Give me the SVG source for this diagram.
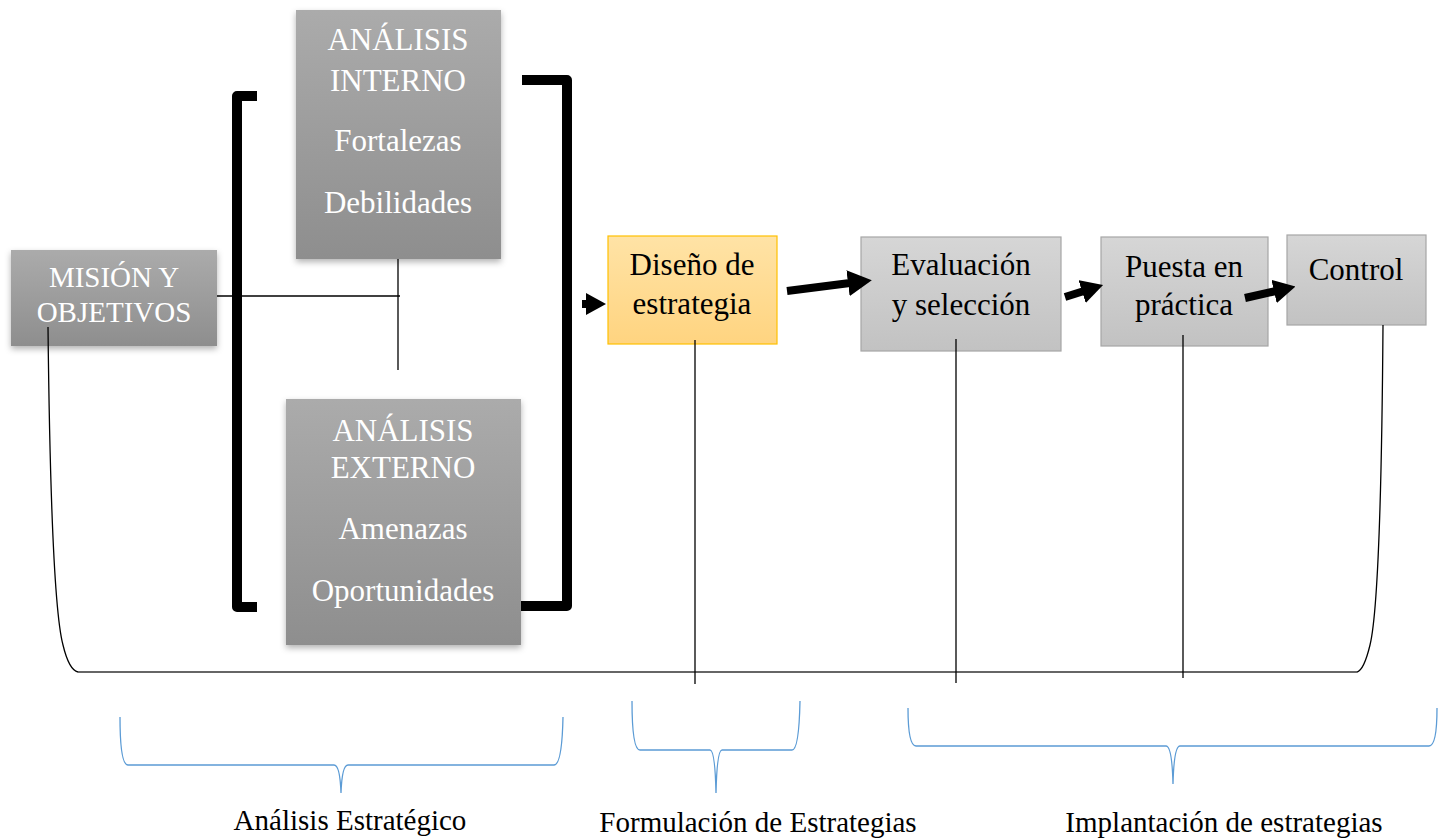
<svg xmlns="http://www.w3.org/2000/svg" width="1446" height="839" viewBox="0 0 1446 839">
<style>
.dk{fill:url(#gDark);filter:url(#sh)}
.lt{fill:url(#gLight);stroke:#a6a6a6;stroke-width:1.2}
.or{fill:url(#gOr);stroke:#ffc000;stroke-width:1.2}
.tw{font-family:"Liberation Serif","Times New Roman",serif;font-size:31px;fill:#ffffff;text-anchor:middle}
.tb{font-family:"Liberation Serif","Times New Roman",serif;font-size:31px;fill:#000000;text-anchor:middle}
.lab{font-family:"Liberation Serif","Times New Roman",serif;font-size:29px;fill:#000000;text-anchor:middle}
.thin{fill:none;stroke:#000;stroke-width:1.3}
.brk{fill:none;stroke:#000;stroke-width:10;stroke-linejoin:round}
.arr{fill:none;stroke:#000;stroke-width:8}
.brace{fill:none;stroke:#5b9bd5;stroke-width:1.3}
</style>
<defs>
<linearGradient id="gDark" x1="0" y1="0" x2="0" y2="1"><stop offset="0" stop-color="#ababab"/><stop offset="1" stop-color="#8e8e8e"/></linearGradient>
<linearGradient id="gLight" x1="0" y1="0" x2="0" y2="1"><stop offset="0" stop-color="#d6d6d6"/><stop offset="1" stop-color="#c2c2c2"/></linearGradient>
<linearGradient id="gOr" x1="0" y1="0" x2="0" y2="1"><stop offset="0" stop-color="#ffe3a6"/><stop offset="1" stop-color="#ffd480"/></linearGradient>
<filter id="sh" x="-10%" y="-10%" width="120%" height="125%"><feDropShadow dx="0" dy="3" stdDeviation="3" flood-color="#000" flood-opacity="0.3"/></filter>
<marker id="ah" markerUnits="userSpaceOnUse" markerWidth="24" markerHeight="26" refX="2" refY="13" orient="auto"><path d="M0,0 L24,13 L0,26 z" fill="#000"/></marker>
<marker id="ahs" markerUnits="userSpaceOnUse" markerWidth="20" markerHeight="22" refX="2" refY="11" orient="auto"><path d="M0,0 L20,11 L0,22 z" fill="#000"/></marker>
<marker id="ahm" markerUnits="userSpaceOnUse" markerWidth="22" markerHeight="24" refX="2" refY="12" orient="auto"><path d="M0,0 L22,12 L0,24 z" fill="#000"/></marker>
</defs>
<rect width="1446" height="839" fill="#fff"/>

<g id="brackets">
<path class="brk" d="M257,96 L237,96 L237,607 L257,607"/>
<path class="brk" d="M522,80 L567,80 L567,606 L521,606"/>
</g>

<g id="mision">
<rect class="dk" x="11" y="250" width="206" height="96"/>
<text class="tw" style="font-size:29px" x="114" y="287">MISIÓN Y</text>
<text class="tw" style="font-size:29px" x="114" y="322">OBJETIVOS</text>
</g>

<g id="interno">
<rect class="dk" x="296" y="10" width="205" height="249"/>
<text class="tw" x="398" y="50">ANÁLISIS</text>
<text class="tw" x="398" y="91">INTERNO</text>
<text class="tw" x="398" y="151">Fortalezas</text>
<text class="tw" x="398" y="213">Debilidades</text>
</g>

<g id="externo">
<rect class="dk" x="286" y="399" width="235" height="246"/>
<text class="tw" x="403" y="441">ANÁLISIS</text>
<text class="tw" x="403" y="478">EXTERNO</text>
<text class="tw" x="403" y="539">Amenazas</text>
<text class="tw" x="403" y="601">Oportunidades</text>
</g>

<g id="diseno">
<rect class="or" x="608" y="236" width="169" height="108"/>
<text class="tb" x="692" y="275">Diseño de</text>
<text class="tb" x="692" y="314">estrategia</text>
</g>

<g id="evaluacion">
<rect class="lt" x="861" y="237" width="200" height="114"/>
<text class="tb" x="961" y="275">Evaluación</text>
<text class="tb" x="961" y="315">y selección</text>
</g>

<g id="puesta">
<rect class="lt" x="1101" y="237" width="167" height="109"/>
<text class="tb" x="1184" y="277">Puesta en</text>
<text class="tb" x="1184" y="315">práctica</text>
</g>

<g id="control">
<rect class="lt" x="1287" y="235" width="139" height="90"/>
<text class="tb" x="1356" y="280">Control</text>
</g>

<g id="connectors">
<line class="thin" x1="217" y1="296" x2="400" y2="296"/>
<line class="thin" x1="398" y1="259" x2="398" y2="370"/>
<path class="thin" d="M48,327 Q51,600 63,645 Q69,670 78,672"/>
<path class="thin" d="M1383,325 Q1381,600 1370,645 Q1364,670 1357,672"/>
<line x1="78" y1="672" x2="1357" y2="672" stroke="#333" stroke-width="1.6"/>
<line class="thin" x1="695" y1="340" x2="695" y2="684"/>
<line class="thin" x1="956" y1="339" x2="956" y2="683"/>
<line class="thin" x1="1183" y1="335" x2="1183" y2="678"/>
<line class="arr" x1="582" y1="304" x2="588" y2="304" marker-end="url(#ahs)"/>
<line class="arr" stroke-width="9" x1="787" y1="291" x2="850" y2="283" marker-end="url(#ah)"/>
<line class="arr" stroke-width="8" x1="1065" y1="297" x2="1084" y2="291" marker-end="url(#ahm)"/>
<line class="arr" stroke-width="8" x1="1245" y1="298" x2="1276" y2="291" marker-end="url(#ahm)"/>
</g>

<g id="braces">
<path class="brace" d="M120,717 Q120,765 128,765 L334,765 Q340,765 341,793 Q342,765 348,765 L554,765 Q562,765 563,717"/>
<path class="brace" d="M632,701 Q632,750 640,750 L710,750 Q715,750 716,793 Q717,750 722,750 L792,750 Q799,750 800,701"/>
<path class="brace" d="M908,708 Q908,746 916,746 L1166,746 Q1172,746 1173,784 Q1174,746 1180,746 L1429,746 Q1437,746 1437,708"/>
</g>

<g id="labels">
<text class="lab" x="350" y="830">Análisis Estratégico</text>
<text class="lab" x="758" y="832">Formulación de Estrategias</text>
<text class="lab" x="1224" y="832">Implantación de estrategias</text>
</g>
</svg>
